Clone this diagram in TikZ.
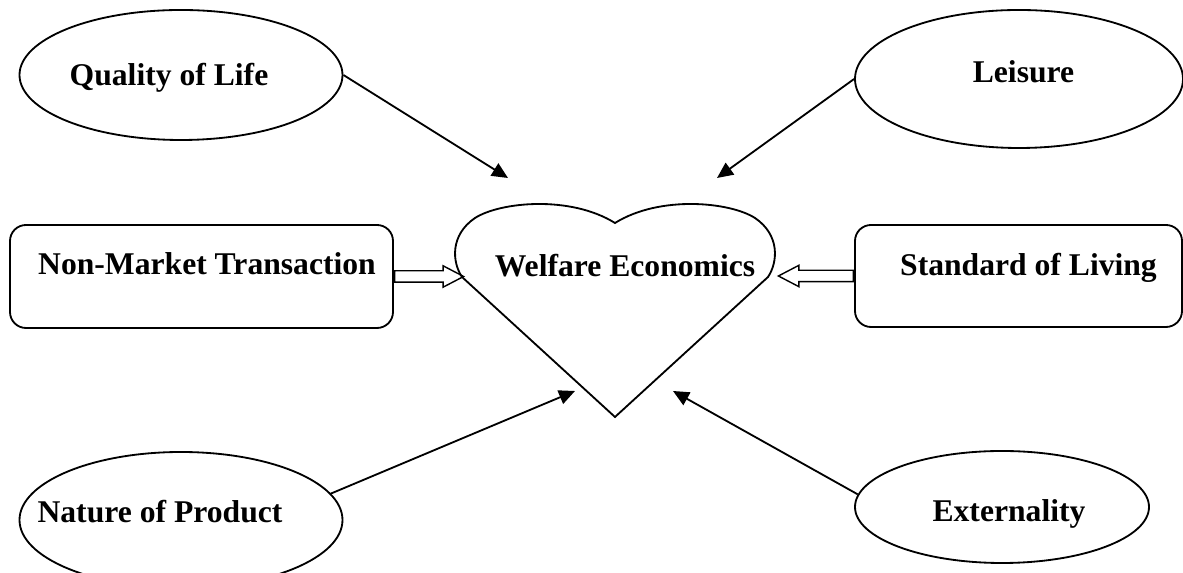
\documentclass[tikz,border=0pt]{standalone}
\usepackage{fontspec}
\setmainfont{Liberation Serif}
\usetikzlibrary{shapes.geometric,shapes.arrows,arrows.meta}

\begin{document}
\begin{tikzpicture}[line width=1.3pt]
    \tikzstyle{oval}=[ellipse, draw, inner sep=0pt];
    \tikzstyle{card}=[rectangle, draw, rounded corners=0.4cm, inner sep=0pt];
    \tikzstyle{word}=[font=\fontsize{22.5}{27}\selectfont\bfseries, anchor=base, inner sep=0pt];
    \tikzstyle{hollow}=[single arrow, draw, inner sep=0pt, text height=0.125cm, text depth=0.125cm, single arrow head extend=0.125cm, single arrow tip angle=55, line width=1pt];
    \tikzstyle{pointer}=[-{Triangle[length=0.4cm, width=0.36cm]}];

    \useasboundingbox (0, 0) rectangle (29.575, 14.325);

    % the heart in the middle
    \draw (15.375, 3.9) -- (11.55, 7.4)
        .. controls (11.3, 7.775) and (11.25, 8.45) .. (11.875, 8.875)
        .. controls (12.5, 9.275) and (14.25, 9.45) .. (15.375, 8.75)
        .. controls (16.5, 9.45) and (18.25, 9.275) .. (18.875, 8.875)
        .. controls (19.5, 8.45) and (19.45, 7.775) .. (19.2, 7.4) -- cycle;
    \node (wel) at (15.625, 7.4) [word] {Welfare Economics};

    \node (qol) at (4.525, 12.45) [oval, minimum width=8.075cm, minimum height=3.25cm] {};
    \node (qol-t) at (4.225, 12.175) [word] {Quality of Life};

    \node (lei) at (25.475, 12.35) [oval, minimum width=8.2cm, minimum height=3.45cm] {};
    \node (lei-t) at (25.5875, 12.25) [word] {Leisure};

    \node (nmt) at (5.0375, 7.4125) [card, minimum width=9.575cm, minimum height=2.575cm] {};
    \node (nmt-t) at (5.175, 7.45) [word] {Non-Market Transaction};

    \node (sol) at (25.4625, 7.425) [card, minimum width=8.175cm, minimum height=2.55cm] {};
    \node (sol-t) at (25.7125, 7.425) [word] {Standard of Living};

    \node (npr) at (4.525, 1.325) [oval, minimum width=8.075cm, minimum height=3.4cm] {};
    \node (npr-t) at (4.0, 1.25) [word] {Nature of Product};

    \node (ext) at (25.05, 1.65) [oval, minimum width=7.35cm, minimum height=2.8cm] {};
    \node (ext-t) at (25.225, 1.275) [word] {Externality};

    % free ends of the thin arrows
    \coordinate (tq) at (12.7, 9.875);
    \coordinate (tl) at (17.925, 9.875);
    \coordinate (tn) at (14.375, 4.55);
    \coordinate (te) at (16.825, 4.55);

    \draw (qol.east) edge[pointer] (tq);
    \draw (lei.west) edge[pointer] (tl);
    \draw (npr.10) edge[pointer] (tn);
    \draw (ext.175) edge[pointer] (te);

    \node (al) at (nmt.east) [hollow, anchor=tail, minimum height=1.725cm] {};
    \node (ar) at (sol.west) [hollow, anchor=tail, rotate=180, minimum height=1.875cm] {};

\end{tikzpicture}
\end{document}
